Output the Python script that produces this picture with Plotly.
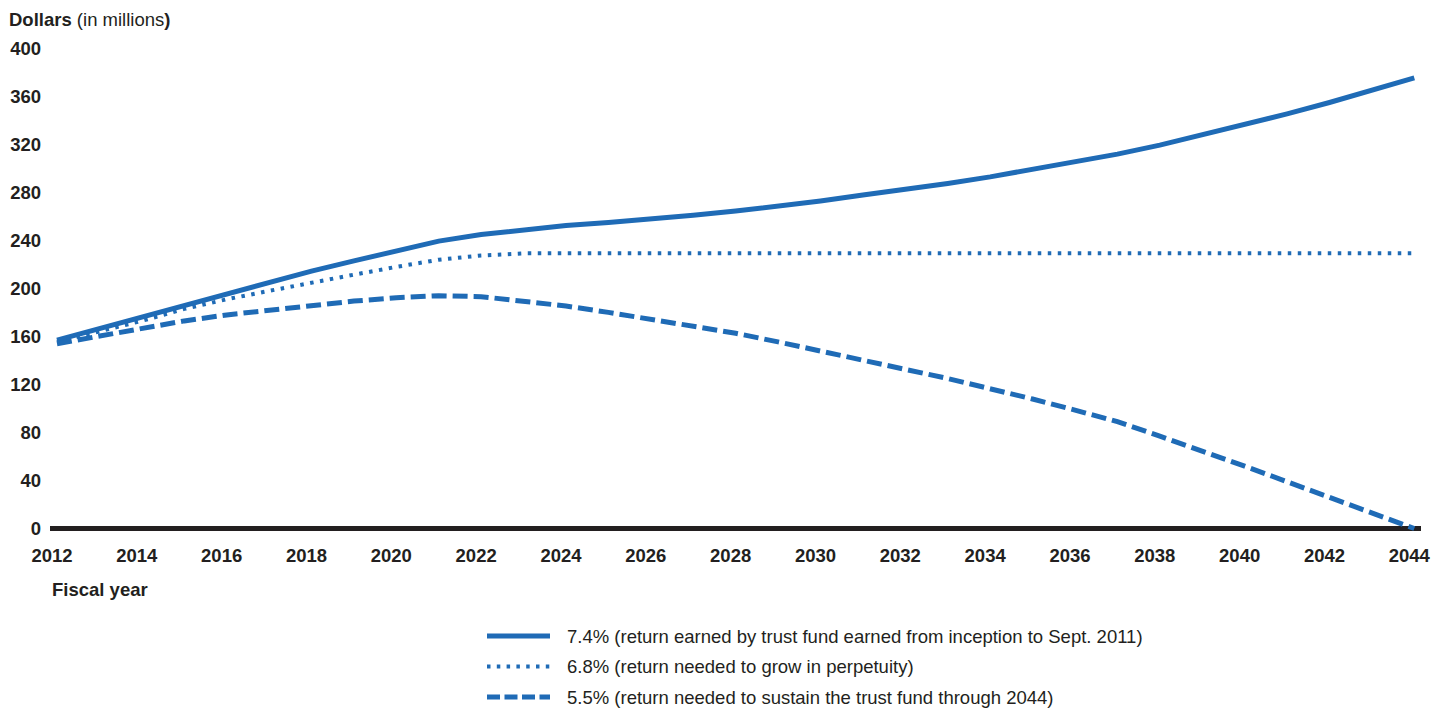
import plotly.graph_objects as go

years = list(range(2012, 2045))

rate_74 = [157, 166.5, 176.5, 186.5, 196, 205.5, 214.5, 223, 231.5, 239.5,
           245, 249, 252.5, 255, 257.5, 261, 264.5, 268.5, 273, 278,
           282.5, 287.5, 293, 299, 305, 312, 319.5, 328, 336.5, 345.5,
           355, 365.5, 375.5]

rate_68 = [155.5, 164, 173, 183, 191, 198, 205, 211.5, 218, 224,
           227.5, 229.3, 229.3, 229.3, 229.3, 229.3, 229.3, 229.3, 229.3, 229.3,
           229.3, 229.3, 229.3, 229.3, 229.3, 229.3, 229.3, 229.3, 229.3, 229.3,
           229.3, 229.3, 229.3]

rate_55 = [154, 160.5, 167, 173, 178, 182, 186, 189.5, 192.3, 194,
           193.2, 189.8, 185.4, 180.1, 174.3, 168.7, 162.7, 155.5, 148.2, 140.4,
           132.6, 125, 116.8, 107.9, 98.7, 89, 77, 64.8, 52, 39,
           26, 14, 0]

names = [
    "7.4% (return earned by trust fund earned from inception to Sept. 2011)",
    "6.8% (return needed to grow in perpetuity)",
    "5.5% (return needed to sustain the trust fund through 2044)",
]

y_ticks = [0, 40, 80, 120, 160, 200, 240, 280, 320, 360, 400]
x_ticks = list(range(2012, 2045, 2))

BLUE = "#1f6bb6"
TXT = "#231f20"
FONT = "Liberation Sans, Arial, sans-serif"
FS = 18.5

# figure geometry (figure is offset by the page's 8px body margin)
W, H = 1441, 701
L, R, T, B = 42, 28, 32, 174
PW, PH = W - L - R, H - T - B


def px(xfig):
    return (xfig - L) / PW


def py(yfig):
    return (H - B - yfig) / PH


styles = [
    dict(color=BLUE, width=5),
    dict(color=BLUE, width=4, dash="3.5px,6.5px"),
    dict(color=BLUE, width=5, dash="15px,6px"),
]
legend_styles = [
    dict(color=BLUE, width=5),
    dict(color=BLUE, width=4, dash="3.5px,6.3px"),
    dict(color=BLUE, width=5, dash="13px,4.5px"),
]

fig = go.Figure()
for vals, nm, st in zip([rate_74, rate_68, rate_55], names, styles):
    fig.add_trace(go.Scatter(x=years, y=vals, mode="lines", name=nm,
                             line=st, showlegend=False))

shapes = []
annotations = [
    dict(text="<b>Dollars</b> (in millions<b>)</b>", xref="paper", yref="paper",
         x=px(0), y=py(0), xanchor="left", yanchor="top", borderpad=0,
         showarrow=False, font=dict(family=FONT, size=FS, color=TXT)),
    dict(text="<b>Fiscal year</b>", xref="paper", yref="paper",
         x=px(42), y=py(581), xanchor="left", yanchor="middle",
         showarrow=False, font=dict(family=FONT, size=FS, color=TXT)),
]
rows = [628, 658.5, 689]
for nm, st, ry in zip(names, legend_styles, rows):
    shapes.append(dict(type="line", xref="paper", yref="paper",
                       x0=px(479), x1=px(542), y0=py(ry), y1=py(ry), line=st))
    annotations.append(dict(text=nm, xref="paper", yref="paper",
                            x=px(557), y=py(ry), xanchor="left", yanchor="middle",
                            showarrow=False,
                            font=dict(family=FONT, size=FS, color=TXT)))

fig.update_layout(
    width=W, height=H,
    paper_bgcolor="white", plot_bgcolor="white",
    margin=dict(l=L, r=R, t=T, b=B),
    font=dict(family=FONT, color=TXT, size=FS),
    showlegend=False,
    xaxis=dict(range=[2011.835, 2044.158], tickvals=x_ticks,
               ticktext=[str(v) for v in x_ticks], automargin=False,
               showgrid=False, zeroline=False, showline=False,
               ticks="", ticklabelstandoff=7, ticklabelshift=-5,
               tickfont=dict(family=FONT, size=FS, color=TXT, weight="bold")),
    yaxis=dict(range=[-5.42, 407.08], tickvals=y_ticks,
               ticktext=[str(v) for v in y_ticks], automargin=False,
               showgrid=False, zeroline=True, zerolinecolor=TXT, zerolinewidth=4.5,
               showline=False, ticks="", ticklabelstandoff=8,
               tickfont=dict(family=FONT, size=FS, color=TXT, weight="bold")),
    shapes=shapes,
    annotations=annotations,
)

fig.write_html("out.html")
